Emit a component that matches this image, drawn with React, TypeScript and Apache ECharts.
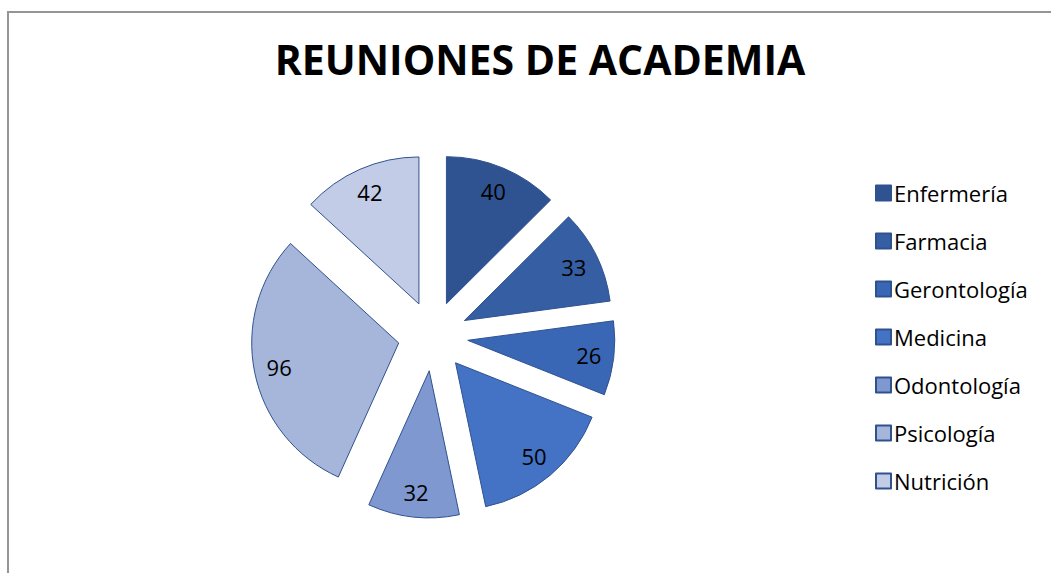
import React, { useEffect, useRef } from "react";
import * as echarts from "echarts";

const categories = ["Enfermería", "Farmacia", "Gerontología", "Medicina", "Odontología", "Psicología", "Nutrición"];
const values = [40, 33, 26, 50, 32, 96, 42];
const colors = ["#2F5290", "#355EA3", "#3A67B5", "#4472C4", "#7F98D0", "#A6B5DA", "#C2CCE6"];
const titleText = "REUNIONES DE ACADEMIA";

export default function App() {
  const ref = useRef<HTMLDivElement>(null);
  useEffect(() => {
    if (!ref.current) return;
    const chart = echarts.init(ref.current, undefined, { renderer: "svg" });
    const center = [433, 336];
    chart.setOption({
      animation: false,
      backgroundColor: "#ffffff",
      title: {
        text: titleText,
        left: 535,
        top: 33,
        textAlign: "center",
        textStyle: { fontFamily: "Open Sans", fontWeight: "bold", fontSize: 41, color: "#000" },
      },
      legend: {
        orient: "vertical",
        left: 870,
        top: 173,
        itemWidth: 15,
        itemHeight: 15,
        itemGap: 18,
        icon: "rect",
        data: categories,
        textStyle: { fontFamily: "Open Sans", fontSize: 22, color: "#000", lineHeight: 30, padding: [0, 0, 0, -2] },
      },
      graphic: [
        {
          type: "rect",
          shape: { x: 8, y: 12, width: 1100, height: 620 },
          style: { fill: "none", stroke: "#959595", lineWidth: 2 },
          silent: true,
        },
      ],
      series: [
        {
          type: "pie",
          center,
          radius: [0, 147],
          startAngle: 90,
          clockwise: true,
          selectedMode: "multiple",
          selectedOffset: 35,
          label: { show: false },
          labelLine: { show: false },
          emphasis: { disabled: true },
          itemStyle: { borderColor: "#2F528F", borderWidth: 1 },
          data: categories.map((c, i) => ({
            name: c,
            value: values[i],
            selected: true,
            itemStyle: { color: colors[i] },
          })),
        },
        {
          type: "pie",
          center,
          radius: [0, 308],
          startAngle: 90,
          clockwise: true,
          silent: true,
          avoidLabelOverlap: false,
          legendHoverLink: false,
          labelLine: { show: false },
          itemStyle: { color: "rgba(0,0,0,0)", borderWidth: 0 },
          label: {
            show: true,
            position: "inside",
            formatter: "{c}",
            fontFamily: "Open Sans",
            fontSize: 22,
            color: "#000",
          },
          data: categories.map((c, i) => ({ name: c, value: values[i] })),
        },
      ],
    });
    return () => chart.dispose();
  }, []);
  return <div ref={ref} style={{ position: "absolute", left: 0, top: 0, width: 1051, height: 573 }} />;
}
